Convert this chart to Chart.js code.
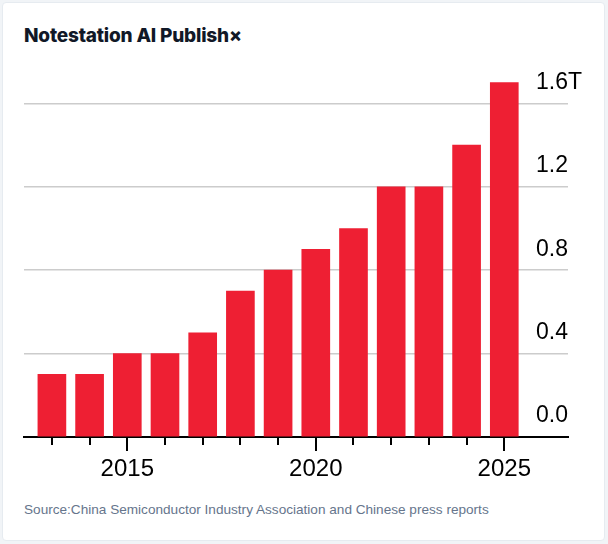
<!DOCTYPE html>
<html>
<head>
<meta charset="utf-8">
<script src="https://cdn.jsdelivr.net/npm/chart.js@4.4.1/dist/chart.umd.min.js"></script>
<style>
  html, body { margin: 0; padding: 0; background: #f1f4f7; }
  body { width: 608px; height: 544px; position: relative; overflow: hidden; }
  .card {
    position: absolute; left: 2px; top: 2px; width: 601px; height: 537px;
    background: #fff; border: 1px solid #e6ebf0; border-radius: 4px;
  }
  .title {
    position: absolute; left: 24px; top: 24px;
    font: 800 19px "Inter", "Liberation Sans", sans-serif; color: #111827;
    white-space: nowrap; letter-spacing: -0.2px;
  }
  .source {
    position: absolute; left: 24px; top: 502px;
    font: 13.6px "Liberation Sans", Arial, sans-serif; color: #66758c;
    white-space: nowrap;
  }
  #wrap { position: absolute; left: 0; top: 60px; width: 608px; height: 420px; }
</style>
</head>
<body>
<div class="card"></div>
<div class="title">Notestation AI Publish×</div>
<div id="wrap"><canvas id="chart"></canvas></div>
<div class="source">Source:China Semiconductor Industry Association and Chinese press reports</div>
<script>
const years = [2013, 2014, 2015, 2016, 2017, 2018, 2019, 2020, 2021, 2022, 2023, 2024, 2025];
const values = [0.3, 0.3, 0.4, 0.4, 0.5, 0.7, 0.8, 0.9, 1.0, 1.2, 1.2, 1.4, 1.7];
const xTickYears = [2015, 2020, 2025];
const yTicks = [0, 0.4, 0.8, 1.2, 1.6];
const yLabels = ['0.0', '0.4', '0.8', '1.2', '1.6T'];

// short/long tick marks under the baseline
const yearTicks = {
    id: 'yearTicks',
    afterDraw(chart) {
        const sx = chart.scales.x;
        const c = chart.ctx;
        const y0 = chart.chartArea.bottom;
        c.save();
        c.strokeStyle = '#000';
        c.lineWidth = 2;
        years.forEach(yr => {
            const px = Math.round(sx.getPixelForValue(yr));
            const len = xTickYears.includes(yr) ? 14 : 8;
            c.beginPath();
            c.moveTo(px, y0);
            c.lineTo(px, y0 + len);
            c.stroke();
        });
        c.restore();
    }
};

new Chart(document.getElementById('chart'), {
    type: 'bar',
    data: {
        datasets: [{
            data: years.map((yr, i) => ({ x: yr, y: values[i] })),
            backgroundColor: '#ee1f33',
            barThickness: 28,
        }]
    },
    options: {
        responsive: true,
        maintainAspectRatio: false,
        animation: false,
        layout: { padding: { left: 24, right: 40, top: 10, bottom: 0 } },
        plugins: {
            legend: { display: false },
            tooltip: { enabled: false }
        },
        scales: {
            x: {
                type: 'linear',
                min: 2012.26,
                max: 2026.69,
                offset: false,
                z: 1,
                afterFit: s => { s.height = 43; s.paddingLeft = 0; s.paddingRight = 0; },
                grid: { display: true, offset: false, drawOnChartArea: false, drawTicks: true, tickLength: 14, tickColor: 'transparent' },
                border: { display: true, color: '#000', width: 2 },
                ticks: {
                    stepSize: 1,
                    includeBounds: false,
                    autoSkip: false,
                    maxRotation: 0,
                    padding: 4,
                    color: '#000',
                    font: { family: '"Liberation Sans", Arial, sans-serif', size: 24 },
                    callback: v => xTickYears.includes(v) ? String(v) : ''
                }
            },
            y: {
                position: 'right',
                min: 0,
                max: 1.76,
                afterFit: s => { s.width = 0; s.paddingTop = 0; s.paddingBottom = 0; },
                afterBuildTicks: s => { s.ticks = yTicks.map(v => ({ value: v })); },
                border: { display: false },
                grid: {
                    drawTicks: false,
                    lineWidth: 1.5,
                    color: c => c.tick && c.tick.value === 0 ? 'rgba(0,0,0,0)' : '#cccccc'
                },
                ticks: {
                    mirror: true,
                    crossAlign: 'far',
                    padding: 14,
                    labelOffset: -21,
                    color: '#000',
                    font: { family: '"Liberation Sans", Arial, sans-serif', size: 23 },
                    callback: (v, i) => yLabels[i]
                }
            }
        }
    },
    plugins: [yearTicks]
});
</script>
</body>
</html>
